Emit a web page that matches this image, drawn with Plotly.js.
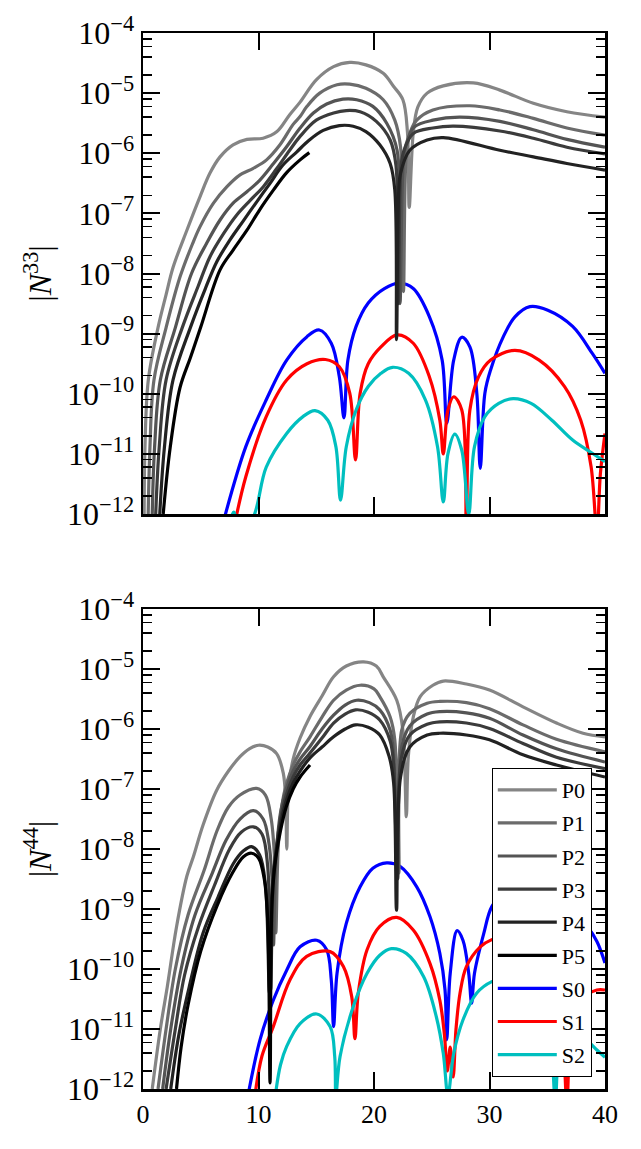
<!DOCTYPE html>
<html>
<head>
<meta charset="utf-8">
<script src="https://cdn.plot.ly/plotly-3.0.1.min.js"></script>
<style>
  html, body { margin: 0; padding: 0; background: #fff; }
  #plot { width: 641px; height: 1149px; }
</style>
</head>
<body>
<div id="plot"></div>
<script>
// values, stored as log10(|N|)
// ---- top panel |N33| ----
const x33_p0 = [0.1, 0.17, 0.46, 1.3, 2.0, 2.6, 3.8, 4.94, 5.8, 6.67, 7.8, 9.0, 10.4, 11.6, 12.7, 13.6, 15.0, 16.5, 17.9, 19.3, 20.8, 21.7, 22.5, 22.9, 23.05, 23.4, 23.8, 24.6, 26.0, 28.6, 30.9, 33.8, 36.7, 40];
const y33_p0 = [-12.1, -10.9, -9.77, -8.9, -8.35, -7.9, -7.28, -6.72, -6.33, -6.06, -5.86, -5.77, -5.75, -5.64, -5.36, -5.15, -4.78, -4.56, -4.49, -4.53, -4.67, -4.89, -5.11, -5.66, -6.9, -5.66, -5.23, -5.0, -4.88, -4.83, -4.95, -5.17, -5.31, -5.4];
const x33_p1 = [0.45, 0.6, 0.95, 2.0, 3.2, 4.3, 4.94, 6.1, 7.25, 8.4, 9.55, 10.7, 11.86, 13.0, 13.6, 14.2, 15.3, 16.8, 17.9, 19.3, 20.8, 21.8, 22.3, 22.55, 22.8, 23.1, 23.7, 25.1, 28.3, 30.9, 33.8, 36.7, 40];
const y33_p1 = [-12, -10.9, -9.77, -8.9, -8.06, -7.5, -7.22, -6.83, -6.56, -6.36, -6.25, -6.11, -5.86, -5.52, -5.39, -5.22, -5.0, -4.86, -4.85, -4.92, -5.11, -5.45, -5.9, -8.3, -6.0, -5.67, -5.45, -5.28, -5.21, -5.28, -5.42, -5.58, -5.7];
const x33_p2 = [0.8, 1.0, 1.5, 2.8, 4.2, 5.5, 6.67, 7.8, 9.0, 10.1, 11.3, 12.4, 13.6, 14.75, 15.9, 17.3, 18.5, 19.9, 21.1, 22.0, 22.25, 22.6, 22.9, 23.5, 25.1, 27.4, 30.9, 33.8, 36.7, 40];
const y33_p2 = [-12, -10.9, -9.77, -8.9, -8.0, -7.5, -7.11, -6.83, -6.64, -6.45, -6.17, -5.9, -5.58, -5.33, -5.18, -5.1, -5.11, -5.22, -5.5, -5.95, -8.5, -6.0, -5.78, -5.56, -5.45, -5.40, -5.47, -5.61, -5.77, -5.9];
const x33_p3 = [1.1, 1.4, 2.0, 3.4, 4.8, 5.8, 7.0, 8.1, 9.3, 10.4, 11.6, 12.7, 13.6, 15.0, 16.5, 17.6, 18.8, 20.2, 21.4, 21.9, 22.1, 22.35, 22.6, 23.4, 25.1, 26.9, 30.9, 33.8, 36.7, 40];
const y33_p3 = [-12, -10.9, -9.77, -8.9, -8.2, -7.72, -7.33, -7.03, -6.78, -6.56, -6.25, -5.95, -5.72, -5.45, -5.33, -5.29, -5.31, -5.47, -5.78, -6.2, -8.5, -6.2, -5.95, -5.67, -5.58, -5.55, -5.63, -5.75, -5.9, -6.01];
const x33_p4 = [1.45, 1.85, 2.6, 4.1, 5.4, 6.4, 7.5, 8.7, 9.8, 11.0, 12.1, 13.3, 14.4, 15.6, 17.0, 18.2, 19.3, 20.5, 21.4, 21.8, 21.95, 22.15, 22.3, 23.1, 24.6, 26.0, 30.9, 33.8, 36.7, 40];
const y33_p4 = [-12, -10.9, -9.77, -8.9, -8.25, -7.8, -7.45, -7.12, -6.82, -6.5, -6.2, -5.98, -5.78, -5.62, -5.54, -5.55, -5.64, -5.86, -6.17, -6.61, -9.1, -6.6, -6.33, -5.95, -5.78, -5.74, -5.95, -6.06, -6.17, -6.28];
const x33_p5 = [1.75, 2.35, 3.2, 4.1, 5.0, 6.67, 7.8, 9.0, 10.1, 11.3, 12.4, 13.6, 14.4];
const y33_p5 = [-12, -10.9, -9.9, -9.4, -8.89, -7.94, -7.61, -7.28, -6.94, -6.61, -6.33, -6.11, -5.99];
const x33_s0 = [7.0, 8.9, 10.67, 12.44, 14.2, 15.27, 16.3, 17.0, 17.4, 17.74, 18.45, 19.5, 20.9, 22.2, 23.4, 24.8, 25.9, 26.3, 26.9, 27.6, 28.3, 28.9, 29.2, 29.6, 30.1, 31.2, 32.2, 33.5, 35.05, 37.2, 38.9, 40];
const y33_s0 = [-12.1, -10.88, -10.1, -9.44, -9.05, -8.94, -9.16, -9.72, -10.4, -9.44, -8.88, -8.49, -8.25, -8.16, -8.25, -8.72, -9.44, -10.49, -9.44, -9.06, -9.22, -9.99, -11.24, -9.99, -9.6, -9.05, -8.72, -8.55, -8.61, -8.88, -9.33, -9.66];
const x33_s1 = [7.9, 8.9, 10.67, 12.44, 14.2, 15.8, 17.0, 17.9, 18.4, 18.8, 19.5, 20.6, 22.0, 23.4, 24.8, 25.7, 26.0, 26.4, 26.9, 27.6, 28.0, 28.3, 29.05, 30.1, 32.2, 34.3, 36.5, 37.9, 38.8, 39.3, 39.6, 40];
const y33_s1 = [-12.2, -11.38, -10.38, -9.77, -9.5, -9.43, -9.55, -9.99, -11.1, -9.99, -9.5, -9.22, -9.02, -9.16, -9.72, -10.44, -11.0, -10.27, -10.05, -10.27, -12.3, -10.27, -9.72, -9.44, -9.28, -9.44, -9.88, -10.44, -11.22, -12.3, -11.33, -10.66];
const x33_s2 = [7.3, 7.85, 8.4, 9.55, 10.67, 12.44, 13.85, 14.9, 16.0, 16.7, 17.1, 17.6, 18.45, 19.5, 20.6, 21.6, 23.0, 24.45, 25.5, 26.0, 26.4, 26.99, 27.6, 28.2, 28.7, 29.6, 30.8, 32.05, 33.6, 35.4, 37.2, 38.9, 40];
const y33_s2 = [-12.3, -11.97, -12.3, -12.05, -11.22, -10.66, -10.38, -10.28, -10.44, -10.88, -11.77, -10.88, -10.27, -9.88, -9.66, -9.56, -9.66, -10.1, -10.88, -11.8, -11.0, -10.67, -10.94, -12.0, -10.88, -10.38, -10.16, -10.08, -10.16, -10.44, -10.77, -10.99, -11.13];

// ---- bottom panel |N44| ----
const x44_p0 = [0.8, 1.5, 2.1, 2.9, 3.8, 4.36, 5.2, 6.38, 7.4, 8.4, 9.2, 10.0, 10.8, 11.57, 12.15, 12.35, 12.45, 12.6, 13.0, 13.6, 14.46, 15.5, 16.5, 17.6, 19.1, 20.2, 20.8, 21.97, 22.5, 22.8, 22.97, 23.4, 24.0, 25.1, 26.0, 28.0, 30.0, 32.9, 35.8, 38.1, 40];
const y44_p0 = [-12, -11, -10.3, -9.3, -8.45, -8.13, -7.6, -7.02, -6.7, -6.46, -6.33, -6.27, -6.3, -6.41, -6.74, -7.2, -8.0, -7.0, -6.5, -6.15, -5.79, -5.45, -5.13, -4.95, -4.88, -4.95, -5.13, -5.52, -6.02, -7.46, -6.46, -5.8, -5.46, -5.27, -5.2, -5.25, -5.35, -5.63, -5.9, -6.07, -6.13];
const x44_p1 = [1.3, 2.0, 2.8, 3.9, 5.3, 6.4, 7.4, 8.4, 9.84, 10.6, 11.1, 11.4, 11.5, 11.7, 12.0, 12.44, 13.0, 13.6, 14.46, 15.5, 16.5, 17.6, 18.8, 20.0, 20.5, 21.4, 21.8, 22.15, 22.4, 23.1, 24.6, 25.7, 28.0, 30.0, 32.9, 35.8, 40];
const y44_p1 = [-12, -11, -10, -9.1, -8.35, -7.7, -7.3, -7.1, -6.99, -7.1, -7.5, -8.2, -9.4, -8.0, -7.3, -6.9, -6.6, -6.38, -6.13, -5.8, -5.52, -5.35, -5.27, -5.33, -5.46, -5.8, -6.18, -8.4, -6.02, -5.74, -5.57, -5.54, -5.56, -5.66, -5.93, -6.17, -6.38];
const x44_p2 = [1.7, 2.4, 3.3, 4.5, 6.0, 7.2, 8.4, 9.55, 10.4, 10.9, 11.2, 11.3, 11.5, 11.9, 12.4, 13.0, 13.6, 14.46, 15.5, 16.5, 17.5, 18.5, 19.6, 20.5, 21.4, 21.7, 22.05, 22.4, 23.1, 24.6, 25.7, 28.0, 30.0, 32.9, 35.8, 40];
const y44_p2 = [-12, -11, -10, -9.1, -8.4, -7.85, -7.5, -7.36, -7.5, -7.9, -8.6, -9.6, -8.2, -7.4, -7.0, -6.7, -6.5, -6.29, -6.0, -5.77, -5.6, -5.52, -5.56, -5.68, -6.02, -6.46, -8.5, -6.3, -5.95, -5.75, -5.71, -5.73, -5.82, -6.1, -6.33, -6.55];
const x44_p3 = [2.0, 2.8, 3.6, 4.8, 6.2, 7.5, 8.5, 9.55, 10.3, 10.8, 11.05, 11.3, 11.9, 12.4, 13.0, 13.6, 14.46, 15.5, 16.5, 17.5, 18.4, 19.5, 20.5, 21.4, 21.7, 22.0, 22.35, 23.1, 24.6, 25.7, 28.0, 30.0, 32.9, 35.8, 40];
const y44_p3 = [-12, -11, -10.1, -9.3, -8.6, -8.0, -7.72, -7.63, -7.75, -8.3, -10.35, -8.5, -7.5, -7.1, -6.8, -6.6, -6.4, -6.15, -5.9, -5.75, -5.68, -5.72, -5.85, -6.2, -6.6, -8.5, -6.5, -6.1, -5.92, -5.88, -5.9, -5.99, -6.24, -6.47, -6.66];
const x44_p4 = [2.4, 3.1, 4.0, 5.2, 6.5, 7.8, 8.7, 9.4, 10.1, 10.6, 10.95, 11.2, 11.9, 12.4, 13.0, 13.6, 14.46, 15.5, 16.5, 17.5, 18.4, 19.5, 20.5, 21.3, 21.7, 21.95, 22.3, 23.1, 24.6, 25.7, 28.0, 30.0, 32.9, 35.8, 40];
const y44_p4 = [-12, -11.1, -10.3, -9.4, -8.8, -8.25, -8.03, -7.96, -8.1, -8.6, -10.4, -8.6, -7.6, -7.2, -6.9, -6.7, -6.48, -6.3, -6.13, -6.0, -5.93, -5.97, -6.1, -6.45, -6.9, -9.02, -6.8, -6.3, -6.1, -6.07, -6.1, -6.18, -6.43, -6.6, -6.8];
const x44_p5 = [2.9, 3.3, 3.9, 5.0, 6.4, 7.8, 8.7, 9.4, 10.0, 10.5, 10.8, 11.0, 11.15, 11.4, 11.9, 12.4, 13.0, 13.6, 14.46];
const y44_p5 = [-12, -11.3, -10.6, -9.7, -8.95, -8.38, -8.13, -8.07, -8.15, -8.5, -9.2, -11.9, -9.0, -8.3, -7.7, -7.3, -7.0, -6.8, -6.6];
const x44_s0 = [9.0, 10.13, 11.28, 12.44, 13.6, 15.04, 15.9, 16.3, 16.5, 16.8, 17.6, 18.8, 19.9, 21.1, 22.25, 23.7, 24.85, 25.7, 26.15, 26.3, 26.6, 27.2, 27.7, 28.2, 28.45, 28.7, 29.5, 30.2, 31.2, 32.5, 34.0, 35.5, 37.0, 38.5, 39.3, 40];
const y44_s0 = [-12.2, -11.18, -10.52, -10.02, -9.63, -9.52, -9.68, -10.18, -10.96, -10.07, -9.24, -8.63, -8.32, -8.23, -8.29, -8.63, -9.13, -9.74, -10.35, -11.18, -10.07, -9.36, -9.52, -10.07, -10.57, -10.07, -9.41, -8.96, -8.75, -8.6, -8.6, -8.75, -9.0, -9.3, -9.54, -9.9];
const x44_s1 = [9.7, 10.3, 11.28, 12.73, 14.17, 16.2, 17.35, 18.07, 18.35, 18.64, 19.4, 20.5, 21.97, 23.4, 24.85, 25.7, 26.1, 26.35, 26.6, 26.85, 27.1, 27.45, 28.0, 29.2, 30.2, 31.5, 33.0, 34.5, 35.6, 36.3, 36.7, 37.1, 38.0, 39.3, 40];
const y44_s1 = [-12.1, -11.45, -10.96, -10.18, -9.79, -9.71, -9.96, -10.46, -11.16, -10.4, -9.68, -9.29, -9.14, -9.35, -9.91, -10.52, -11.1, -11.7, -11.3, -11.8, -11.0, -10.4, -9.96, -9.63, -9.51, -9.45, -9.5, -9.8, -10.3, -11.0, -12.2, -11.0, -10.5, -10.35, -10.35];
const x44_s2 = [11.5, 11.9, 12.44, 13.6, 15.04, 16.2, 16.6, 16.7, 17.06, 18.2, 19.4, 20.5, 21.5, 22.8, 24.3, 25.4, 26.0, 26.4, 26.9, 27.7, 28.9, 30.2, 31.5, 33.0, 34.5, 35.3, 35.7, 36.1, 37.0, 38.5, 39.3, 40];
const y44_s2 = [-12.05, -11.6, -11.29, -10.91, -10.75, -10.96, -11.46, -12.1, -11.46, -10.63, -10.07, -9.77, -9.66, -9.74, -10.13, -10.8, -11.41, -12.1, -11.41, -10.85, -10.4, -10.21, -10.15, -10.2, -10.6, -11.2, -12.2, -11.3, -11.0, -11.2, -11.35, -11.47];

const names = ['P0', 'P1', 'P2', 'P3', 'P4', 'P5', 'S0', 'S1', 'S2'];
const colors = ['#858585', '#6b6b6b', '#545454', '#3b3b3b', '#222222', '#000000', '#0000ff', '#ff0000', '#00bfbf'];
const xTicks = [0, 10, 20, 30, 40];
const yTickExp = [-12, -11, -10, -9, -8, -7, -6, -5, -4];

const top33 = [[x33_p0, y33_p0], [x33_p1, y33_p1], [x33_p2, y33_p2], [x33_p3, y33_p3], [x33_p4, y33_p4], [x33_p5, y33_p5], [x33_s0, y33_s0], [x33_s1, y33_s1], [x33_s2, y33_s2]];
const bot44 = [[x44_p0, y44_p0], [x44_p1, y44_p1], [x44_p2, y44_p2], [x44_p3, y44_p3], [x44_p4, y44_p4], [x44_p5, y44_p5], [x44_s0, y44_s0], [x44_s1, y44_s1], [x44_s2, y44_s2]];

const FONT = 'Liberation Serif, DejaVu Serif, serif';

function curve(xy, i, xa, ya, show) {
    return {
        type: 'scatter', mode: 'lines', name: names[i],
        x: xy[0], y: xy[1].map(v => Math.pow(10, v)),
        xaxis: xa, yaxis: ya, showlegend: show,
        legendgroup: names[i], legendrank: i + 1,
        line: { color: colors[i], width: 3.2, shape: 'spline', smoothing: 1.0 },
        hoverinfo: 'skip'
    };
}

// S curves first so the P curves are drawn on top of them
const order = [6, 7, 8, 0, 1, 2, 3, 4, 5];
const traces = [];
order.forEach(i => traces.push(curve(top33[i], i, 'x', 'y', false)));
order.forEach(i => traces.push(curve(bot44[i], i, 'x2', 'y2', true)));

const minorVals = [];
yTickExp.slice(0, -1).forEach(e => [2, 4, 6, 8].forEach(m => minorVals.push(m * Math.pow(10, e))));

function xAxis(showLabels, anchor) {
    return {
        range: [0, 40], tickmode: 'array', tickvals: xTicks, ticktext: xTicks.map(String),
        showticklabels: showLabels, ticks: 'inside', ticklen: 17, tickwidth: 2, tickcolor: 'black',
        showline: true, linewidth: 2.5, linecolor: 'black', mirror: 'allticks',
        showgrid: false, zeroline: false, anchor: anchor,
        tickfont: { family: FONT, size: 26, color: 'black' }
    };
}

function yAxis(label, domain, anchor) {
    return {
        type: 'log', range: [-12, -4], domain: domain, anchor: anchor,
        tickmode: 'array', tickvals: yTickExp.map(e => Math.pow(10, e)),
        ticktext: yTickExp.map(e => '10<sup>\u2212' + (-e) + '</sup>'),
        ticks: 'inside', ticklen: 17, tickwidth: 2, tickcolor: 'black',
        minor: { ticks: 'inside', ticklen: 9, tickwidth: 1.5, tickcolor: 'black', tickmode: 'array', tickvals: minorVals, showgrid: false },
        showline: true, linewidth: 2.5, linecolor: 'black', mirror: 'allticks',
        showgrid: false, zeroline: false,
        tickfont: { family: FONT, size: 32, color: 'black' },
        title: { text: label, font: { family: FONT, size: 32, color: 'black' }, standoff: 6 }
    };
}

const layout = {
    width: 641, height: 1149,
    margin: { l: 143, r: 36, t: 33, b: 60 },
    paper_bgcolor: 'white', plot_bgcolor: 'white',
    xaxis: xAxis(false, 'y'),
    yaxis: yAxis('|<i>N</i><sup>33</sup>|', [0.5445, 1], 'x'),
    xaxis2: xAxis(true, 'y2'),
    yaxis2: yAxis('|<i>N</i><sup>44</sup>|', [0, 0.4545], 'x2'),
    showlegend: true,
    legend: {
        x: 0.755, y: 0.304, xanchor: 'left', yanchor: 'top',
        bgcolor: 'white', bordercolor: 'black', borderwidth: 1,
        font: { family: FONT, size: 22, color: 'black' },
        traceorder: 'grouped', tracegroupgap: 1.5, itemwidth: 59
    }
};

Plotly.newPlot('plot', traces, layout, { staticPlot: true });
</script>
</body>
</html>
